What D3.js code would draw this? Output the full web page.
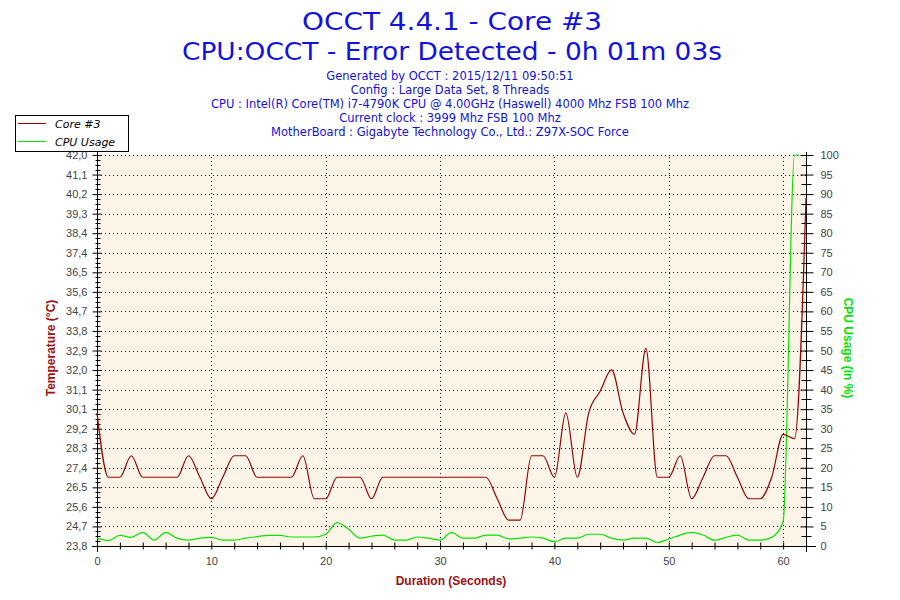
<!DOCTYPE html>
<html>
<head>
<meta charset="utf-8">
<script src="https://cdn.jsdelivr.net/npm/d3@7"></script>
<style>
  body { margin: 0; background: #fff; }
  svg { display: block; }
</style>
</head>
<body>
<div id="chart"></div>
<script>
// Header text
const titleLines = ['OCCT 4.4.1 - Core #3', 'CPU:OCCT - Error Detected - 0h 01m 03s'];
const titleWidths = [300, 540];
const infoLines = [
  'Generated by OCCT : 2015/12/11 09:50:51',
  'Config : Large Data Set, 8 Threads',
  'CPU : Intel(R) Core(TM) i7-4790K CPU @ 4.00GHz (Haswell) 4000 Mhz FSB 100 Mhz',
  'Current clock : 3999 Mhz FSB 100 Mhz',
  'MotherBoard : Gigabyte Technology Co., Ltd.: Z97X-SOC Force'
];

// Temperature series (°C) against duration (s)
const tempTimes = d3.range(0, 63);
const tempValues = [30, 27, 27, 28, 27, 27, 27, 27, 28, 27,
  26, 27, 28, 28, 27, 27, 27, 27, 28, 26,
  26, 27, 27, 27, 26, 27, 27, 27, 27, 27,
  27, 27, 27, 27, 27, 26, 25, 25, 28, 28,
  27, 30, 27, 30, 31, 32, 30, 29, 33, 27,
  27, 28, 26, 27, 28, 28, 27, 26, 26, 27,
  29, 28.8, 40];

// CPU usage series (%)
const cpuTimes = d3.range(0, 61).concat([61, 61.4]);
const cpuValues = [2.0, 1.4, 2.7, 2.2, 3.5, 1.5, 3.5, 2.0, 1.5, 2.0,
  2.2, 1.5, 1.5, 2.0, 2.4, 2.7, 2.7, 2.3, 2.3, 2.3,
  3.0, 6.0, 4.3, 2.0, 2.5, 2.8, 1.5, 1.5, 2.3, 2.0,
  1.5, 3.5, 2.0, 2.0, 2.8, 2.8, 1.8, 2.0, 2.3, 2.0,
  1.1, 2.0, 2.0, 3.0, 3.0, 2.0, 1.5, 2.0, 2.0, 0.9,
  1.8, 2.8, 3.5, 2.8, 1.5, 2.2, 2.8, 1.5, 1.5, 2.2,
  6.2, 100, 100];

// Axis ticks
const tempTickLabels = ['23,8', '24,7', '25,6', '26,5', '27,4', '28,3', '29,2', '30,1', '31,1', '32,0',
  '32,9', '33,8', '34,7', '35,6', '36,5', '37,4', '38,4', '39,3', '40,2', '41,1', '42,0'];
const tempMin = 23.8, tempMax = 42.0;
const cpuTicks = d3.range(0, 101, 5);
const timeTicks = d3.range(0, 63, 2);
const timeLabels = [0, 10, 20, 30, 40, 50, 60];

const W = 900, H = 600;
const plot = { left: 97, right: 806, top: 155, bottom: 546 };
const RED = '#990000', GREEN = '#00e600', BLUE = '#1212e0', TICK = '#444';

const svg = d3.select('#chart').append('svg').attr('width', W).attr('height', H);

const x = d3.scaleLinear().domain([0, 62]).range([plot.left, plot.right]);
const yT = d3.scaleLinear().domain([tempMin, tempMax]).range([plot.bottom, plot.top]);
const yC = d3.scaleLinear().domain([0, 100]).range([plot.bottom, plot.top]);

const tempStep = (tempMax - tempMin) / (tempTickLabels.length - 1);
const tempTicks = tempTickLabels.map((d, i) => tempMin + i * tempStep);

// Title block
svg.selectAll('text.title')
  .data(titleLines)
  .join('text')
  .attr('class', 'title')
  .attr('x', 452)
  .attr('y', (d, i) => 30 + i * 30)
  .attr('text-anchor', 'middle')
  .attr('font-family', 'DejaVu Sans, Verdana, sans-serif')
  .attr('font-size', 25)
  .attr('textLength', (d, i) => titleWidths[i])
  .attr('lengthAdjust', 'spacingAndGlyphs')
  .attr('fill', BLUE)
  .text(d => d);

svg.selectAll('text.info')
  .data(infoLines)
  .join('text')
  .attr('class', 'info')
  .attr('x', 450)
  .attr('y', (d, i) => 80 + i * 14)
  .attr('text-anchor', 'middle')
  .attr('font-family', 'DejaVu Sans, Verdana, sans-serif')
  .attr('font-size', 11.5)
  .attr('fill', BLUE)
  .text(d => d);

// Plot background
svg.append('rect')
  .attr('x', plot.left).attr('y', plot.top)
  .attr('width', plot.right - plot.left).attr('height', plot.bottom - plot.top)
  .attr('fill', '#fdf6e8');

// Dotted grid
const grid = svg.append('g').attr('stroke', '#000').attr('stroke-width', 1).attr('stroke-dasharray', '1,3');
grid.selectAll('line.h')
  .data(tempTicks.slice(1))
  .join('line')
  .attr('class', 'h')
  .attr('x1', plot.left + 4).attr('x2', plot.right)
  .attr('y1', d => Math.round(yT(d)) + 0.5).attr('y2', d => Math.round(yT(d)) + 0.5);
grid.selectAll('line.v')
  .data(timeLabels.slice(1))
  .join('line')
  .attr('class', 'v')
  .attr('y1', plot.top + 2).attr('y2', plot.bottom)
  .attr('x1', d => Math.round(x(d)) + 0.5).attr('x2', d => Math.round(x(d)) + 0.5);

// Left axis (temperature)
const leftAxis = svg.append('g')
  .attr('transform', `translate(${plot.left + 0.5},0)`)
  .call(d3.axisLeft(yT).tickValues(tempTicks).tickFormat((d, i) => tempTickLabels[i]).tickSize(5).tickPadding(5));
leftAxis.selectAll('.tick line').attr('x2', 4).attr('x1', -5);
const tempMinor = [];
for (let i = 0; i < tempTicks.length - 1; i++) {
  for (let k = 1; k < 4; k++) tempMinor.push(tempTicks[i] + tempStep * k / 4);
}
leftAxis.selectAll('line.minor')
  .data(tempMinor)
  .join('line')
  .attr('class', 'minor')
  .attr('stroke', '#000')
  .attr('x1', -2).attr('x2', 3)
  .attr('y1', d => Math.round(yT(d)) + 0.5).attr('y2', d => Math.round(yT(d)) + 0.5);

// Right axis (CPU usage)
const rightAxis = svg.append('g')
  .attr('transform', `translate(${plot.right + 0.5},0)`)
  .call(d3.axisRight(yC).tickValues(cpuTicks).tickSize(6).tickPadding(8));
rightAxis.selectAll('.tick line').attr('x1', -6).attr('x2', 7);
rightAxis.selectAll('line.minor')
  .data(cpuTicks.slice(0, -1).map(d => d + 2.5))
  .join('line')
  .attr('class', 'minor')
  .attr('stroke', '#000')
  .attr('x1', -5).attr('x2', 5)
  .attr('y1', d => Math.round(yC(d)) + 0.5).attr('y2', d => Math.round(yC(d)) + 0.5);

// Bottom axis (duration)
const bottomAxis = svg.append('g')
  .attr('transform', `translate(0,${plot.bottom + 0.5})`)
  .call(d3.axisBottom(x).tickValues(timeTicks)
    .tickFormat(d => timeLabels.includes(d) ? d : '').tickSize(3).tickPadding(8));
bottomAxis.selectAll('.tick line').attr('y1', -4).attr('y2', 3);
bottomAxis.select('.domain').attr('d', `M${plot.left - 5},0H${plot.right + 10}`);

[leftAxis, rightAxis, bottomAxis].forEach(g => {
  g.selectAll('.tick text')
    .attr('font-family', 'Liberation Sans, Arial, sans-serif')
    .attr('font-size', 11)
    .attr('fill', TICK);
  g.select('.domain').attr('stroke', '#000');
});
leftAxis.select('.domain').attr('d', `M0,${plot.top - 3}V${plot.bottom + 6}`);
rightAxis.select('.domain').attr('d', `M0,${plot.top - 3}V${plot.bottom + 6}`);

// Series lines
const tempLine = d3.line()
  .x((d, i) => x(tempTimes[i]))
  .y(d => yT(d))
  .curve(d3.curveMonotoneX);
const cpuLine = d3.line()
  .x((d, i) => x(cpuTimes[i]))
  .y(d => yC(d))
  .curve(d3.curveMonotoneX);

svg.append('path')
  .datum(cpuValues)
  .attr('d', cpuLine)
  .attr('fill', 'none')
  .attr('stroke', GREEN)
  .attr('stroke-width', 1.2);
svg.append('path')
  .datum(tempValues)
  .attr('d', tempLine)
  .attr('fill', 'none')
  .attr('stroke', RED)
  .attr('stroke-width', 1.2);

// Axis titles
svg.append('text')
  .attr('transform', 'translate(55,348) rotate(-90)')
  .attr('text-anchor', 'middle')
  .attr('font-family', 'Liberation Sans, Arial, sans-serif')
  .attr('font-weight', 'bold')
  .attr('font-size', 12)
  .attr('fill', '#a01010')
  .text('Temperature (°C)');
svg.append('text')
  .attr('transform', 'translate(844,348) rotate(90)')
  .attr('text-anchor', 'middle')
  .attr('font-family', 'Liberation Sans, Arial, sans-serif')
  .attr('font-weight', 'bold')
  .attr('font-size', 12)
  .attr('fill', GREEN)
  .text('CPU Usage (in %)');
svg.append('text')
  .attr('x', 451).attr('y', 585)
  .attr('text-anchor', 'middle')
  .attr('font-family', 'Liberation Sans, Arial, sans-serif')
  .attr('font-weight', 'bold')
  .attr('font-size', 12)
  .attr('fill', '#a01010')
  .text('Duration (Seconds)');

// Legend
const legend = svg.append('g');
legend.append('rect')
  .attr('x', 15.5).attr('y', 115.5).attr('width', 113).attr('height', 36)
  .attr('fill', '#fff').attr('stroke', '#000');
const legendItems = [{ name: 'Core #3', color: RED }, { name: 'CPU Usage', color: GREEN }];
legend.selectAll('g.item')
  .data(legendItems)
  .join('g')
  .attr('class', 'item')
  .attr('transform', (d, i) => `translate(0,${123.5 + i * 18})`)
  .each(function(d) {
    const g = d3.select(this);
    g.append('line').attr('x1', 18).attr('x2', 46).attr('stroke', d.color).attr('stroke-width', 1);
    g.append('text')
      .attr('x', 55).attr('y', 4)
      .attr('font-family', 'DejaVu Sans, Verdana, sans-serif')
      .attr('font-style', 'italic')
      .attr('font-size', 11)
      .attr('fill', '#000')
      .text(d.name);
  });
</script>
</body>
</html>
